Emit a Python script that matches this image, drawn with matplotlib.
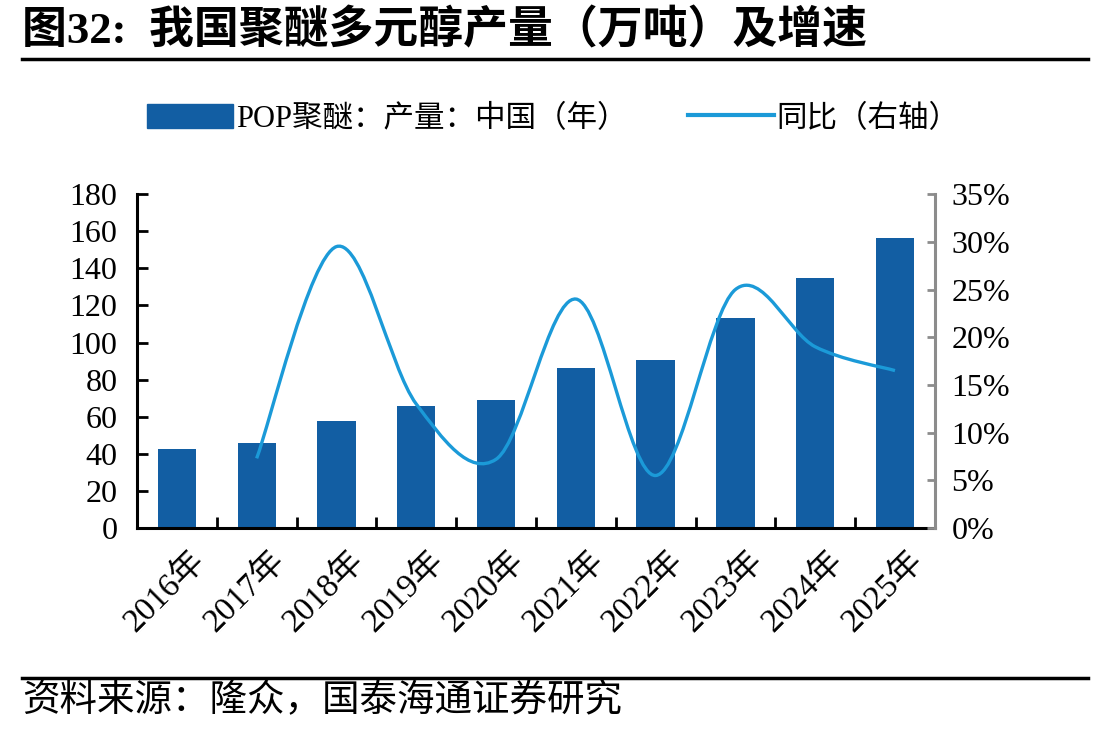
import matplotlib
matplotlib.use('Agg')
import matplotlib.pyplot as plt
import matplotlib.transforms as mtransforms
from matplotlib.path import Path
from matplotlib.patches import PathPatch
from matplotlib.lines import Line2D
from matplotlib.ticker import FuncFormatter, MultipleLocator

years = ['2016年', '2017年', '2018年', '2019年', '2020年', '2021年', '2022年', '2023年', '2024年', '2025年']
output = [42.4, 45.6, 57.5, 66.0, 69.2, 86.0, 90.7, 113.0, 135.0, 156.4]
growth = [None, 7.3, 29.5, 13.0, 7.2, 24.0, 5.5, 25.0, 19.0, 16.5]

bar_color = '#125ea3'
line_color = '#1b9ad8'
fam = ['Liberation Serif', 'Noto Sans CJK SC']

fig = plt.figure(figsize=(11.09, 7.34), dpi=100)
ax = fig.add_axes([0.1235, 0.2807, 0.7195, 0.4548])
ax2 = ax.twinx()

x = list(range(len(years)))
ax.bar(x, output, width=0.48, color=bar_color, zorder=2)
ax.set_xlim(-0.5, len(years) - 0.5)
ax.set_ylim(0, 180)
ax.yaxis.set_major_locator(MultipleLocator(20))
ax2.set_ylim(0, 35)
ax2.yaxis.set_major_locator(MultipleLocator(5))
ax2.yaxis.set_major_formatter(FuncFormatter(lambda v, p: '%d%%' % v))

# smoothed line (excel style bezier through the points)
pts = [(i, g) for i, g in zip(x, growth) if g is not None]
verts = [pts[0]]
codes = [Path.MOVETO]
for k in range(len(pts) - 1):
    p0 = pts[k - 1] if k > 0 else pts[k]
    p1 = pts[k]
    p2 = pts[k + 1]
    p3 = pts[k + 2] if k + 2 < len(pts) else pts[k + 1]
    c1 = (p1[0] + (p2[0] - p0[0]) / 6, p1[1] + (p2[1] - p0[1]) / 6)
    c2 = (p2[0] - (p3[0] - p1[0]) / 6, p2[1] - (p3[1] - p1[1]) / 6)
    verts += [c1, c2, p2]
    codes += [Path.CURVE4] * 3
ax2.add_patch(PathPatch(Path(verts, codes), fill=False, edgecolor=line_color, lw=2.4, zorder=3))

for a in (ax, ax2):
    a.spines['top'].set_visible(False)
ax.spines['right'].set_visible(False)
ax2.spines['left'].set_visible(False)
ax2.spines['bottom'].set_visible(False)
ax.spines['left'].set_linewidth(2.2)
ax.spines['bottom'].set_linewidth(2.2)
ax2.spines['right'].set_color('#8c8c8c')
ax2.spines['right'].set_linewidth(2.2)

ax.set_xticks([i + 0.5 for i in x[:-1]], minor=False)
ax.set_xticklabels([])
ax.tick_params(axis='x', which='major', direction='in', length=8, width=2)
ax.set_xticks(x, minor=True)
ax.set_xticklabels(years, minor=True, rotation=45, ha='right', va='top',
                   rotation_mode='anchor', fontsize=24, family=fam)
ax.tick_params(axis='x', which='minor', length=0, pad=12)
shift = mtransforms.ScaledTranslation(0.12, 0, fig.dpi_scale_trans)
for lab in ax.get_xticklabels(minor=True):
    lab.set_transform(lab.get_transform() + shift)
ax.tick_params(axis='y', direction='in', length=8, width=2, pad=14)
ax2.tick_params(axis='y', direction='in', length=6, width=2, color='#8c8c8c', pad=12)
for lab in ax.get_yticklabels() + ax2.get_yticklabels():
    lab.set_family(fam)
    lab.set_fontsize(23)

handles = [plt.Rectangle((0, 0), 1, 1, color=bar_color),
           Line2D([0], [0], color=line_color, lw=3)]
fig.legend(handles, ['POP聚醚：产量：中国（年）', '同比（右轴）'], loc='center',
           bbox_to_anchor=(0.499, 0.838), ncol=2, frameon=False,
           prop={'family': fam, 'size': 22}, handlelength=2.8, handleheight=0.85,
           handletextpad=0.1, columnspacing=2.0)

fig.text(0.02, 0.958, '图32:  我国聚醚多元醇产量（万吨）及增速', fontsize=32.3,
         fontweight='bold', family=fam, va='center')
fig.add_artist(Line2D([0.02, 0.981], [0.92, 0.92], color='black', lw=2.5))
fig.add_artist(Line2D([0.02, 0.981], [0.076, 0.076], color='black', lw=2.5))
fig.text(0.02, 0.045, '资料来源：隆众，国泰海通证券研究', fontsize=27,
         family=fam, va='center')

fig.savefig('out.png', dpi=100)
